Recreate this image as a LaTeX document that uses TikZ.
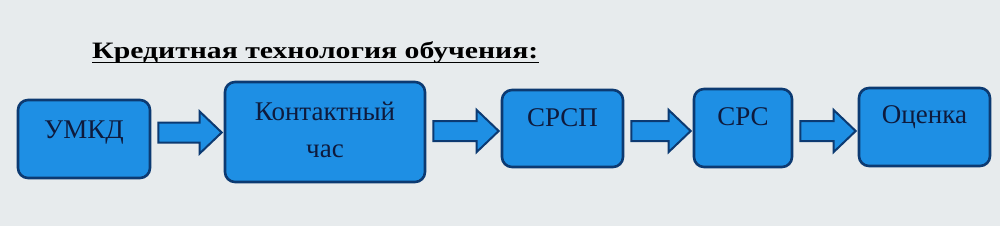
\documentclass[tikz,border=0pt]{standalone}
\usepackage{fontspec}
\setmainfont{Liberation Serif}
\usetikzlibrary{calc}
\definecolor{bg}{HTML}{E7EBED}
\definecolor{boxfill}{HTML}{1E8FE4}
\definecolor{boxline}{HTML}{0C3A72}
\definecolor{txt}{HTML}{0E1A3C}
\tikzset{
  box/.style={draw=boxline, line width=2.6pt, fill=boxfill, rounded corners=10pt,
    font=\fontsize{27}{37}\selectfont, text=txt, align=center, inner sep=0pt},
  barrow/.style={draw=boxline, line width=2pt, fill=boxfill, line join=miter},
}
\newcommand{\blockarrow}[3]{% from node #1 to node #2 at y #3
  \path let \p1=(#1.east), \p2=(#2.west) in
    [barrow] (\x1+7pt,#3-10) -- (\x2-24pt,#3-10) -- (\x2-24pt,#3-21)
    -- (\x2-2pt,#3) -- (\x2-24pt,#3+21) -- (\x2-24pt,#3+10) -- (\x1+7pt,#3+10) -- cycle;
}
\begin{document}
\begin{tikzpicture}[x=1pt,y=-1pt]
\fill[bg] (0,0) rectangle (1000,226);
\useasboundingbox (0,0) rectangle (1000,226);
\node[font=\fontsize{23.5}{28}\selectfont\bfseries, text=black, anchor=base west, inner sep=0pt] (title) at (92,58)
  {\scalebox{1.265}[1]{Кредитная технология обучения:}};
\draw[line width=1.6pt, black] (title.base west) ++(0,4.5) -- ($(title.base east)+(0,4.5)$);
\node[box, minimum width=132pt, minimum height=78pt, text depth=18pt] (umkd) at (84,139) {УМКД};
\node[box, minimum width=200pt, minimum height=100pt, text depth=4pt] (kont) at (325,132) {Контактный\\час};
\node[box, minimum width=121pt, minimum height=77pt, text depth=22pt] (srsp) at (562.5,128.5) {СРСП};
\node[box, minimum width=98pt, minimum height=78pt, text depth=22pt] (src) at (743,128) {СРС};
\node[box, minimum width=131pt, minimum height=78pt, text depth=24pt] (ocen) at (924.5,127) {Оценка};
\blockarrow{umkd}{kont}{132.5}
\blockarrow{kont}{srsp}{131}
\blockarrow{srsp}{src}{131}
\blockarrow{src}{ocen}{131}
\end{tikzpicture}
\end{document}
